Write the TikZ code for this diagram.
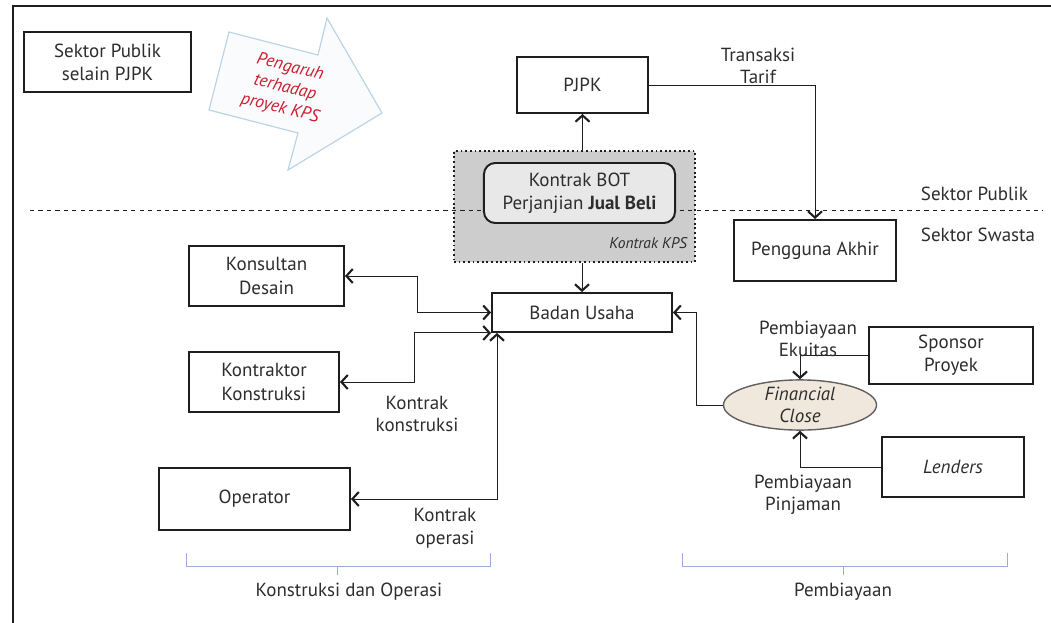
\documentclass[tikz,border=0pt]{standalone}
\usepackage{fontspec}
\setmainfont{PT Sans}
\usetikzlibrary{calc, shapes.geometric, positioning, arrows.meta}
\definecolor{InkGrey}{RGB}{30, 30, 30}
\definecolor{TextGrey}{RGB}{45, 45, 45}
\definecolor{KPSRed}{RGB}{200, 30, 45}
\definecolor{ArrowBlue}{RGB}{185, 210, 228}
\definecolor{BraceBlue}{RGB}{150, 175, 215}
\definecolor{CloseBeige}{RGB}{240, 232, 220}
\definecolor{KPSGrey}{RGB}{205, 205, 205}
\definecolor{BOTGrey}{RGB}{232, 232, 232}

\tikzset{
  box/.style={draw=InkGrey, line width=1.4pt, fill=white, text=TextGrey,
    align=center, font=\fontsize{13.5}{16.5}\selectfont, inner sep=0pt},
  conn/.style={draw=InkGrey, line width=0.7pt, ->},
  dconn/.style={draw=InkGrey, line width=0.7pt, <->},
  lbl/.style={text=TextGrey, align=center, font=\fontsize{13.5}{16}\selectfont},
  brace/.style={draw=BraceBlue, line width=0.6pt}
}

\begin{document}
\begin{tikzpicture}[x=0.025cm, y=-0.025cm,
    >={Straight Barb[length=4.5pt, width=10pt, line width=1.5pt]}]
    \useasboundingbox (0,0) rectangle (1051,623);
    \draw[InkGrey, line width=1.4pt] (13,623) -- (13,6) -- (1051,6);

    % influence arrow
    \filldraw[draw=ArrowBlue, fill=ArrowBlue!8, line width=0.8pt]
      (229,32) -- (318,55) -- (327,18) -- (382,113) -- (288,170) -- (298,133) -- (209,110) -- cycle;
    \node[text=KPSRed, rotate=-14, align=center,
      font=\fontsize{12.5}{15}\selectfont\itshape] (influence) at (285,88)
      {Pengaruh\\terhadap\\proyek KPS};

    \node[box, minimum width=4.175cm, minimum height=1.5cm] (publik) at (107.5,62)
      {Sektor Publik\\selain PJPK};
    \node[box, minimum width=3.275cm, minimum height=1.4cm] (pjpk) at (582.5,85) {PJPK};

    \node[draw=InkGrey, dotted, line width=1.3pt, fill=KPSGrey,
      minimum width=6.025cm, minimum height=2.775cm] (kps) at (574.5,206.5) {};
    \draw[InkGrey, dashed, line width=0.7pt] (30,210) -- (1043,210);
    \node[box, rounded corners=8pt, fill=BOTGrey, minimum width=4.775cm,
      minimum height=1.5cm] (bot) at (579.5,193)
      {Kontrak BOT\\Perjanjian \textbf{Jual Beli}};
    \node[text=TextGrey, anchor=east, font=\fontsize{11}{12}\selectfont\itshape]
      (kpslbl) at (692,243) {Kontrak KPS};

    \node[box, minimum width=4.05cm, minimum height=1.525cm] (pengguna) at (815,250.5)
      {Pengguna Akhir};
    \node[lbl, anchor=west] (publiklbl) at (916,194) {Sektor Publik};
    \node[lbl, anchor=west] (swastalbl) at (916,235) {Sektor Swasta};

    \node[box, minimum width=4.5cm, minimum height=0.975cm] (badan) at (582,312.5)
      {Badan Usaha};
    \node[box, minimum width=3.875cm, minimum height=1.5cm] (konsultan) at (266.5,276)
      {Konsultan\\Desain};
    \node[box, minimum width=3.75cm, minimum height=1.5cm] (kontraktor) at (264,382)
      {Kontraktor\\Konstruksi};
    \node[box, minimum width=4.775cm, minimum height=1.55cm] (operator) at (254.5,499)
      {Operator};

    \node[ellipse, draw=InkGrey!70, line width=1pt, fill=CloseBeige, text=TextGrey,
      minimum width=3.825cm, minimum height=1.25cm, inner sep=0pt, align=center,
      font=\fontsize{13.5}{15.5}\selectfont\itshape] (close) at (800,405)
      {Financial\\Close};
    \node[box, minimum width=4.1cm, minimum height=1.425cm] (sponsor) at (951,355.5)
      {Sponsor\\Proyek};
    \node[box, minimum width=3.55cm, minimum height=1.5cm,
      font=\fontsize{13.5}{16.5}\selectfont\itshape] (lenders) at (953,467) {Lenders};

    % connectors
    \draw[conn] (pjpk.south |- kps.north) -- (pjpk.south);
    \draw[conn] (pjpk.east) -| (pengguna.north);
    \draw[conn] (badan.north |- kps.south) -- (badan.north);
    \draw[dconn] (konsultan.east) -- ++(72,0) |- (badan.west);
    \draw[dconn] (kontraktor.east) -- ++(74,0) |- (badan.south west);
    \draw[dconn] ([xshift=0.15cm]badan.south west) |- (operator.east);
    \draw[conn] (close.west) -- ++(-26,0) |- (badan.east);
    \draw[conn] (sponsor.west) -| (close.north);
    \draw[conn] (lenders.west) -| (close.south);

    \node[lbl] (tariflbl) at (758,66) {Transaksi\\Tarif};
    \node[lbl] (konstrlbl) at (417,414) {Kontrak\\konstruksi};
    \node[lbl] (operlbl) at (445,528) {Kontrak\\operasi};
    \node[lbl] (ekuitaslbl) at (808,339) {Pembiayaan\\Ekuitas};
    \node[lbl] (pinjamanlbl) at (803,495) {Pembiayaan\\Pinjaman};

    % groups
    \draw[brace] (186,553) -- (186,566) -- (490,566) -- (490,553) (337,566) -- (337,575);
    \draw[brace] (682,553) -- (682,566) -- (1007,566) -- (1007,553) (843,566) -- (843,575);
    \node[lbl] (kolbl) at (349,592) {Konstruksi dan Operasi};
    \node[lbl] (biayalbl) at (843,592) {Pembiayaan};
\end{tikzpicture}
\end{document}
